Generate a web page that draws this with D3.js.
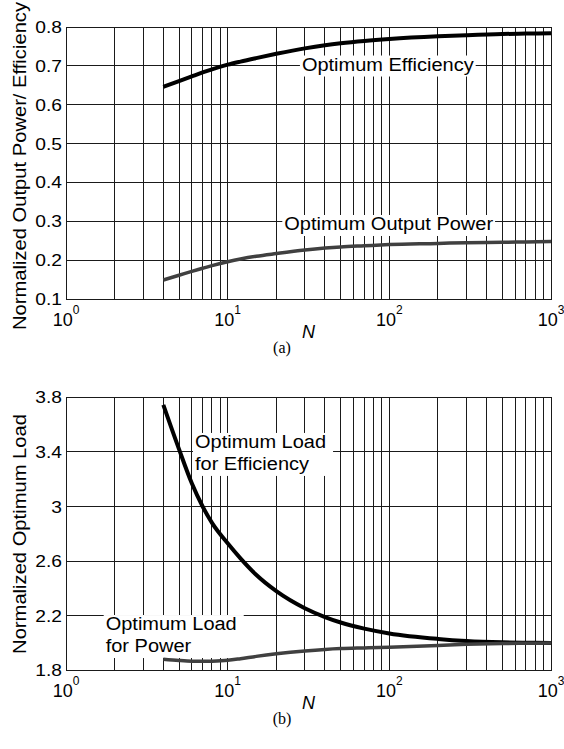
<!DOCTYPE html>
<html>
<head>
<meta charset="utf-8">
<script src="https://cdn.jsdelivr.net/npm/d3@7"></script>
<style>
  body { margin: 0; background: #fff; }
  svg { display: block; }
</style>
</head>
<body>
<div id="chart"></div>
<script>
// Chart layout
const width = 564;
const height = 749;
const plotLeft = 66;
const plotWidth = 485;

// Data
const nValues = [4, 5, 6, 7, 8, 10, 12, 15, 20, 30, 40, 50, 70, 100, 200, 300, 500, 700, 1000];
const optEfficiency = [0.646, 0.661, 0.673, 0.683, 0.691, 0.703, 0.711, 0.720, 0.731, 0.745, 0.753, 0.758, 0.764, 0.769, 0.776, 0.779, 0.782, 0.783, 0.784];
const optPower = [0.149, 0.161, 0.171, 0.179, 0.186, 0.196, 0.203, 0.210, 0.217, 0.226, 0.231, 0.234, 0.237, 0.240, 0.243, 0.245, 0.246, 0.247, 0.248];
const loadForEfficiency = [3.744, 3.42, 3.17, 3.00, 2.88, 2.73, 2.62, 2.50, 2.38, 2.255, 2.19, 2.15, 2.105, 2.07, 2.03, 2.015, 2.005, 2.002, 2.0];
const loadForPower = [1.881, 1.872, 1.867, 1.866, 1.867, 1.873, 1.885, 1.902, 1.921, 1.942, 1.953, 1.959, 1.964, 1.969, 1.982, 1.990, 1.996, 1.998, 2.0];

const xTickValues = [1, 10, 100, 1000];
const xTickExponents = ["0", "1", "2", "3"];
const yTicksTop = [0.1, 0.2, 0.3, 0.4, 0.5, 0.6, 0.7, 0.8];
const yTicksBottom = [1.8, 2.2, 2.6, 3, 3.4, 3.8];

// Panels
const panels = [
  {
    top: 27, height: 272, yDomain: [0.1, 0.8], yTicks: yTicksTop,
    yTitle: "Normalized Output Power/ Efficiency", yTitleCenter: 166, caption: "(a)",
    series: [
      { values: optEfficiency, color: "#000", width: 4 },
      { values: optPower, color: "#404040", width: 3.5 }
    ],
    labels: [
      { n: 28.8, v: 0.688, lines: ["Optimum Efficiency"] },
      { n: 22.4, v: 0.2776, lines: ["Optimum Output Power"] }
    ]
  },
  {
    top: 397.3, height: 273, yDomain: [1.8, 3.8], yTicks: yTicksBottom,
    yTitle: "Normalized Optimum Load", yTitleCenter: 534, caption: "(b)",
    series: [
      { values: loadForEfficiency, color: "#000", width: 4 },
      { values: loadForPower, color: "#404040", width: 3.5 }
    ],
    labels: [
      { n: 6.28, v: 3.429, lines: ["Optimum Load", "for Efficiency"] },
      { n: 1.76, v: 2.095, lines: ["Optimum Load", "for Power"] }
    ]
  }
];

const svg = d3.select("#chart")
  .append("svg")
  .attr("width", width)
  .attr("height", height)
  .style("font-family", "'Liberation Sans', Arial, sans-serif");

// Helper: widen text a little, the figure's font runs wider than Arial
function stretch(sel, k) {
  sel.each(function () {
    const len = this.getComputedTextLength();
    d3.select(this)
      .attr("textLength", len * k)
      .attr("lengthAdjust", "spacingAndGlyphs");
  });
}

// grid values 1..9 per decade
const gridX = [];
[1, 10, 100].forEach(d => {
  for (let m = 1; m <= 9; m++) gridX.push(d * m);
});
gridX.push(1000);

panels.forEach(p => {
  const x = d3.scaleLog().domain([1, 1000]).range([plotLeft, plotLeft + plotWidth]);
  const y = d3.scaleLinear().domain(p.yDomain).range([p.top + p.height, p.top]);
  const bottom = p.top + p.height;

  const gridLayer = svg.append("g");
  const boxLayer = svg.append("g");
  const curveLayer = svg.append("g");
  const textLayer = svg.append("g");

  // Grid
  gridLayer.selectAll(".vgrid")
    .data(gridX)
    .enter().append("line")
    .attr("x1", d => x(d)).attr("x2", d => x(d))
    .attr("y1", p.top).attr("y2", bottom)
    .attr("stroke", "#1a1a1a")
    .attr("shape-rendering", "crispEdges");

  gridLayer.selectAll(".hgrid")
    .data(p.yTicks)
    .enter().append("line")
    .attr("x1", plotLeft).attr("x2", plotLeft + plotWidth)
    .attr("y1", d => y(d)).attr("y2", d => y(d))
    .attr("stroke", "#1a1a1a")
    .attr("shape-rendering", "crispEdges");

  gridLayer.append("rect")
    .attr("x", plotLeft).attr("y", p.top)
    .attr("width", plotWidth).attr("height", p.height)
    .attr("fill", "none")
    .attr("stroke", "#1a1a1a")
    .attr("shape-rendering", "crispEdges");

  // Curves
  const line = d3.line()
    .x((d, i) => x(nValues[i]))
    .y(d => y(d))
    .curve(d3.curveMonotoneX);

  p.series.forEach(s => {
    curveLayer.append("path")
      .datum(s.values)
      .attr("d", line)
      .attr("fill", "none")
      .attr("stroke", s.color)
      .attr("stroke-width", s.width)
      .attr("stroke-linejoin", "round");
  });

  // Curve labels with white background
  p.labels.forEach(l => {
    const g = textLayer.append("g");
    const texts = g.selectAll("text")
      .data(l.lines)
      .enter().append("text")
      .attr("x", x(l.n))
      .attr("y", (d, i) => y(l.v) + i * 22)
      .style("font-size", "18px")
      .attr("fill", "#000")
      .text(d => d);
    stretch(texts, 1.11);
    const bb = g.node().getBBox();
    boxLayer.append("rect")
      .attr("x", bb.x - 2)
      .attr("y", bb.y + 1)
      .attr("width", bb.width + (l.lines.length > 1 ? 9 : 4))
      .attr("height", bb.height + 1)
      .attr("fill", "#fff");
  });

  // Y tick labels
  const yLabels = textLayer.selectAll(".ytick")
    .data(p.yTicks)
    .enter().append("text")
    .attr("x", plotLeft - 4)
    .attr("y", d => y(d) + 6)
    .attr("text-anchor", "end")
    .style("font-size", "17px")
    .text(d => String(d));
  stretch(yLabels, 1.13);

  // X tick labels 10^k
  xTickValues.forEach((v, i) => {
    const t = textLayer.append("text")
      .attr("x", x(v))
      .attr("y", bottom + 27)
      .attr("text-anchor", "middle")
      .style("font-size", "18px");
    t.append("tspan").text("10");
    t.append("tspan")
      .attr("dy", -12)
      .style("font-size", "12px")
      .text(xTickExponents[i]);
  });

  // X title
  textLayer.append("text")
    .attr("x", plotLeft + plotWidth / 2)
    .attr("y", bottom + 39)
    .attr("text-anchor", "middle")
    .style("font-size", "18px")
    .style("font-style", "italic")
    .text("N");

  // Y title
  const yt = textLayer.append("text")
    .attr("transform", `translate(26,${p.yTitleCenter}) rotate(-90)`)
    .attr("text-anchor", "middle")
    .style("font-size", "18.5px")
    .text(p.yTitle);
  stretch(yt, 1.09);

  // Caption
  textLayer.append("text")
    .attr("x", width / 2)
    .attr("y", bottom + 54)
    .attr("text-anchor", "middle")
    .style("font-family", "'Liberation Serif', 'Times New Roman', serif")
    .style("font-size", "16px")
    .text(p.caption);
});
</script>
</body>
</html>
